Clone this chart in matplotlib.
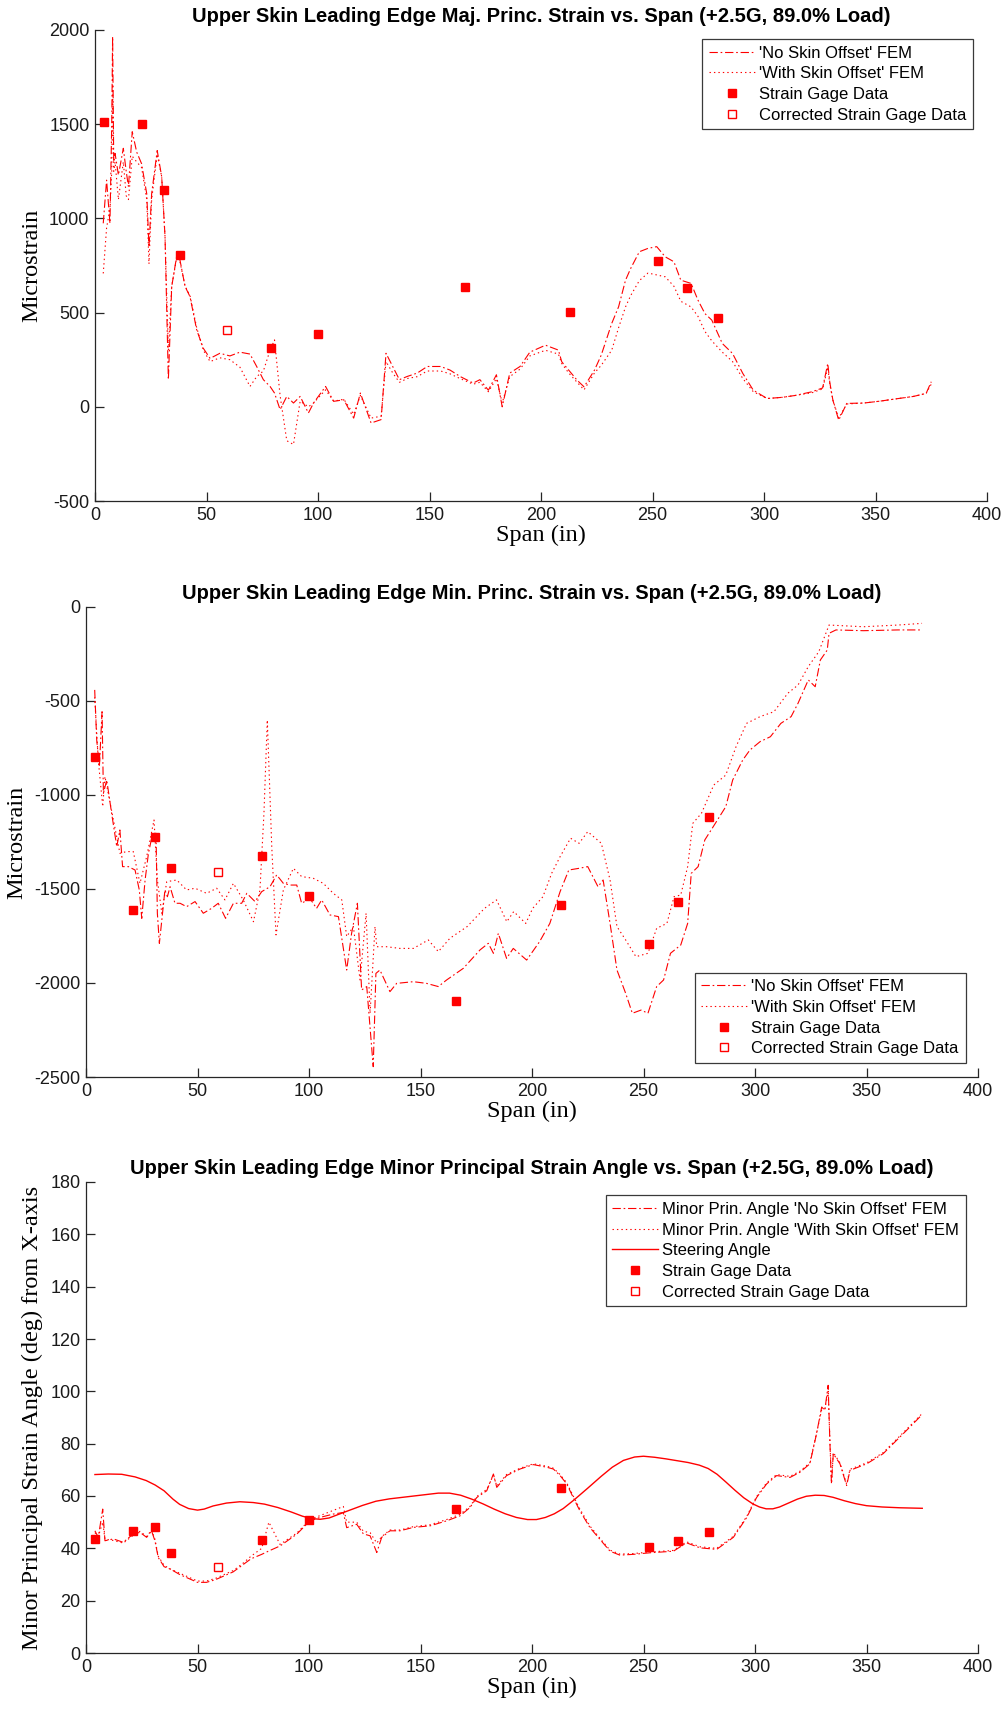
import matplotlib
matplotlib.use("Agg")
import matplotlib.pyplot as plt

# ---------------- data ----------------
span_top = [3.7, 5.2, 6.7, 7.5, 7.9, 8.4, 9.0, 10.5, 12.7, 14.0, 15.0, 16.7, 18.7, 20.9, 23.2, 24.2, 25.4, 27.9, 29.9, 31.4,
            32.9, 34.4, 36.6, 38.1, 40.4, 42.6, 45.6, 48.6, 51.6, 56.0, 60.5, 65.0, 69.5, 72.5, 75.5, 78.5, 80.5, 83.0, 86.0, 89.0,
            92.0, 95.7, 98.0, 103.4, 107.0, 111.6, 116.0, 119.0, 123.8, 128.3, 130.5, 133.5, 136.5, 140.0, 144.5, 149.0, 155.0, 159.2, 163.7, 169.6,
            172.6, 176.4, 180.0, 182.6, 186.0, 190.6, 195.0, 202.0, 207.8, 209.3, 212.4, 216.2, 219.3, 224.0, 227.0, 231.7, 234.8, 237.9, 240.2, 244.1,
            248.0, 251.9, 255.7, 259.6, 262.7, 267.3, 270.4, 273.5, 276.6, 281.3, 285.9, 290.5, 295.2, 301.4, 308.0, 313.9, 321.6, 326.3, 328.6, 329.5,
            330.9, 333.5, 337.1, 344.8, 352.0, 360.3, 367.0, 372.7, 375.0]
maj_no_offset = [974, 1203, 974, 1500, 1965, 1300, 1345, 1230, 1372, 1250, 1168, 1460, 1352, 1290, 1131, 848, 1131, 1360, 1222, 904,
                 144, 638, 797, 779, 638, 585, 408, 310, 257, 284, 270, 290, 280, 214, 144, 108, 73, -15, 55, 20,
                 55, -33, 20, 108, 29, 37, -60, 73, -86, -68, 284, 214, 144, 161, 179, 214, 214, 195, 161, 126,
                 144, 88, 170, 0, 179, 214, 290, 327, 301, 239, 195, 141, 106, 195, 274, 442, 531, 672, 734, 823,
                 841, 850, 796, 770, 672, 655, 566, 495, 460, 336, 283, 177, 88, 44, 50, 60, 80, 100, 230, 130,
                 35, -71, 18, 20, 30, 44, 55, 71, 133]
maj_with_offset = [708, 950, 1050, 1250, 1700, 1250, 1300, 1100, 1300, 1120, 1100, 1330, 1300, 1270, 1100, 758, 1100, 1340, 1222, 904,
                   300, 640, 790, 770, 640, 590, 420, 300, 240, 260, 250, 210, 108, 160, 190, 300, 355, 60, -180, -200,
                   30, 0, 20, 90, 30, 40, -40, 60, -60, -50, 240, 180, 130, 150, 160, 190, 190, 175, 150, 120,
                   130, 80, 150, 20, 160, 200, 270, 300, 280, 230, 180, 130, 90, 180, 220, 300, 420, 530, 590, 670,
                   710, 700, 690, 640, 560, 530, 480, 400, 350, 290, 240, 150, 80, 44, 50, 60, 75, 95, 210, 120,
                   35, -60, 15, 20, 30, 44, 55, 71, 120]

span_mid_no = [3.9, 4.8, 6.0, 7.2, 7.8, 9.3, 11.5, 13.8, 15.2, 16.4, 19.0, 22.0, 23.9, 25.0, 26.5, 28.0, 29.9, 31.4, 32.0, 32.9,
               34.0, 35.4, 36.5, 37.7, 39.9, 42.2, 45.1, 48.9, 52.6, 56.3, 59.3, 62.6, 66.1, 69.8, 72.1, 75.8, 78.8, 82.5, 85.5, 88.5,
               91.5, 94.5, 96.7, 100.4, 103.4, 105.7, 109.4, 113.2, 116.9, 119.1, 121.7, 123.6, 125.9, 128.8, 130.0, 131.8, 136.3, 139.3, 146.8, 152.7,
               158.0, 161.7, 169.2, 176.7, 180.4, 182.7, 184.9, 188.6, 191.6, 197.6, 203.4, 208.0, 212.6, 216.5, 221.1, 225.0, 229.6, 231.9, 235.0, 238.1,
               242.0, 245.0, 248.9, 252.0, 255.9, 259.0, 262.1, 266.7, 269.8, 271.4, 274.5, 277.5, 282.2, 286.9, 290.0, 294.5, 297.7, 302.3, 306.9, 311.6,
               316.2, 319.3, 323.9, 327.0, 329.3, 332.4, 333.2, 336.3, 348.6, 364.1, 374.9]
min_no_offset = [-441, -707, -849, -557, -991, -920, -1098, -1275, -1186, -1381, -1381, -1399, -1505, -1656, -1452, -1310, -1204, -1204, -1629, -1789,
                 -1665, -1505, -1541, -1488, -1576, -1576, -1594, -1567, -1629, -1603, -1576, -1656, -1576, -1576, -1523, -1567, -1514, -1488, -1425, -1470,
                 -1479, -1479, -1576, -1550, -1603, -1558, -1638, -1647, -1931, -1736, -1576, -2037, -2019, -2445, -1949, -1931, -2046, -2002, -1993, -2002,
                 -2019, -1984, -1922, -1824, -1789, -1842, -1736, -1869, -1816, -1878, -1780, -1683, -1514, -1399, -1390, -1381, -1488, -1452, -1683, -1931,
                 -2055, -2161, -2144, -2161, -2019, -1984, -1842, -1798, -1683, -1417, -1381, -1239, -1151, -1062, -920, -814, -761, -716, -690, -619,
                 -583, -512, -388, -424, -282, -229, -140, -122, -126, -122, -122]
span_mid_with = [3.9, 5.5, 7.5, 8.5, 12.3, 15.2, 18.2, 21.2, 24.2, 27.2, 30.5, 32.0, 34.0, 36.2, 40.7, 45.1, 48.9, 54.1, 58.6, 62.3,
                 66.1, 70.5, 75.1, 78.0, 79.8, 81.3, 83.3, 85.2, 88.5, 93.0, 96.7, 101.9, 106.4, 110.9, 114.7, 116.9, 119.9, 122.9, 125.6, 127.4,
                 129.6, 130.4, 134.8, 140.8, 146.8, 153.5, 158.0, 163.2, 170.9, 178.7, 184.1, 188.7, 191.8, 197.2, 200.3, 204.9, 208.8, 212.6, 217.3, 221.1,
                 225.0, 231.1, 235.0, 238.1, 242.0, 246.6, 252.0, 255.9, 260.5, 263.7, 266.7, 269.8, 272.1, 276.0, 281.5, 286.9, 291.5, 296.2, 302.3, 308.5,
                 314.7, 319.3, 323.9, 328.6, 333.2, 348.6, 364.1, 374.9]
min_with_offset = [-480, -814, -1062, -902, -1133, -1310, -1301, -1301, -1470, -1328, -1133, -1452, -1629, -1461, -1452, -1505, -1496, -1523, -1496, -1558,
                   -1470, -1558, -1674, -1505, -1097, -601, -1275, -1744, -1505, -1390, -1434, -1443, -1470, -1523, -1558, -1753, -1700, -1984, -1629, -2161,
                   -1700, -1807, -1807, -1816, -1816, -1771, -1833, -1762, -1700, -1603, -1558, -1674, -1620, -1683, -1603, -1541, -1417, -1328, -1230, -1257,
                   -1195, -1257, -1452, -1700, -1771, -1860, -1842, -1709, -1683, -1541, -1532, -1381, -1151, -1097, -947, -894, -743, -619, -583, -557,
                   -459, -415, -317, -238, -96, -105, -96, -87]

span_ang = [4.0, 5.5, 7.5, 8.5, 12.3, 16.7, 21.2, 24.2, 27.2, 29.4, 30.9, 32.4, 35, 38, 42, 46, 50, 54, 58, 62,
            66, 70, 74, 78.8, 82, 87.0, 94.5, 100.4, 104.9, 110.9, 115.4, 116.9, 121.4, 124.4, 127.4, 130.4, 132.6, 136.3, 140.8, 146.8,
            154.3, 161.7, 167.7, 172.2, 175.2, 179.7, 182.7, 184.2, 188.6, 194.6, 200.6, 206.6, 209.6, 212.6, 215.6, 218.5, 221.5, 226.0, 230.5, 235.0,
            239.4, 245.4, 252.9, 263.4, 269.3, 275.3, 282.8, 290.3, 296.3, 300.7, 305.2, 309.7, 315.7, 320.2, 324.6, 327.6, 329.9, 331.3, 332.8, 333.6,
            334.3, 335.1, 338.1, 341.1, 342.6, 350.1, 357.5, 363.5, 369.5, 374.7]
ang_no_offset = [46.7, 44.2, 55.0, 42.9, 43.6, 42.3, 45.5, 46.1, 44.2, 46.7, 42.9, 36.5, 33, 32, 30, 28.5, 27, 27, 28, 29.5,
                 31, 33.5, 36, 37.7, 39, 40.9, 45.4, 50.5, 51.8, 53.1, 53.7, 47.9, 49.2, 45.5, 44.8, 38.4, 44.2, 46.7, 46.7, 48,
                 48.6, 50.5, 52.4, 55.6, 59.4, 62, 68.4, 63.3, 67.8, 70.3, 72, 71, 70.3, 67.8, 64.6, 59.4, 54.3, 47.9, 43.4, 38.9,
                 37.4, 37.7, 38.3, 38.9, 42.1, 40.2, 39.6, 44.2, 51.8, 59.4, 64.6, 67.8, 67.1, 69.1, 72.3, 83.8, 94, 92.8, 102.3, 80,
                 64.6, 76.2, 72.3, 64, 69.8, 72.3, 76.2, 81.3, 86.4, 90.9]
ang_with_offset = [46.0, 44.5, 50.0, 43.5, 43.0, 42.0, 45.0, 46.5, 44.5, 47.0, 43.5, 37.0, 33.5, 32, 30.5, 29, 27.5, 27.5, 28.5, 30,
                   31.5, 34, 37, 40, 50, 41.5, 45.8, 51, 52.5, 54.5, 56, 50, 50, 46.5, 46, 42, 44.5, 47, 47, 48.3,
                   49, 51, 53, 56, 59.8, 62.5, 68, 63.8, 68.2, 70.6, 72.3, 71.4, 70.6, 68.2, 65, 60, 55, 48.5, 43.8, 39.3,
                   37.8, 38, 38.6, 39.2, 42.5, 40.6, 40, 44.6, 52.2, 59.8, 65, 68.2, 67.5, 69.5, 72.7, 84, 93, 93.2, 100, 81,
                   65, 76.6, 72.7, 64.5, 70.2, 72.7, 76.6, 81.7, 86.8, 91.3]

span_steer = [4, 10, 16, 22, 27, 31, 35, 39, 42, 46, 50, 53, 57, 63, 69, 75, 80, 86, 92, 97,
              101, 105, 109, 113, 118, 124, 130, 136, 141, 150, 158, 163, 168, 173, 178, 183, 188, 193, 198, 202,
              206, 210, 214, 219, 225, 231, 236, 241, 246, 250, 255, 260, 265, 270, 275, 279, 283, 287, 291, 295,
              299, 302, 305, 308, 311, 315, 319, 323, 327, 331, 335, 340, 345, 350, 357, 365, 375]
steering_angle = [68.2, 68.4, 68.3, 67.3, 65.9, 64.2, 62.0, 58.8, 56.8, 55.2, 54.6, 55.0, 56.2, 57.3, 57.8, 57.5, 56.9, 55.6, 53.9, 52.3,
                  51.4, 51.1, 51.6, 52.9, 54.5, 56.4, 58.0, 58.9, 59.4, 60.3, 61.1, 61.1, 60.3, 58.8, 57.0, 55.0, 53.2, 51.8, 51.0, 51.0,
                  51.8, 53.2, 55.2, 58.6, 63.0, 67.5, 71.0, 73.6, 74.9, 75.2, 74.8, 74.2, 73.5, 72.8, 71.8, 70.5, 68.3, 65.3, 62.2, 59.3,
                  57.0, 55.8, 55.1, 55.1, 55.8, 57.3, 58.8, 59.9, 60.3, 60.2, 59.5, 58.2, 57.1, 56.3, 55.8, 55.5, 55.3]

gage_span = [4, 21, 31, 38, 79, 100, 166, 213, 252.5, 265.5, 279.3]
gage_maj = [1513, 1501, 1150, 804, 313, 387, 635, 504, 775, 632, 469]
gage_min = [-800, -1612, -1223, -1390, -1323, -1537, -2094, -1585, -1791, -1569, -1119]
gage_ang = [43.7, 46.8, 48.3, 38.4, 43.2, 51.0, 54.9, 62.9, 40.6, 42.9, 46.2]
corr_span = [59]
corr_maj = [409]
corr_min = [-1408]
corr_ang = [32.8]

titles = ["Upper Skin Leading Edge Maj. Princ. Strain vs. Span (+2.5G, 89.0% Load)",
          "Upper Skin Leading Edge Min. Princ. Strain vs. Span (+2.5G, 89.0% Load)",
          "Upper Skin Leading Edge Minor Principal Strain Angle vs. Span (+2.5G, 89.0% Load)"]

# ---------------- style ----------------
plt.rcParams['font.family'] = ['Liberation Sans', 'DejaVu Sans']
plt.rcParams['lines.scale_dashes'] = False
plt.rcParams['axes.unicode_minus'] = False
RED = (1, 0, 0)
AXC = '#262626'
DASHDOT = (0, (6, 2, 1.2, 2))
DOTTED = (0, (1, 2.2))
LW = 0.8
MS = 6
SERIF = ['Liberation Serif', 'DejaVu Serif']

fig = plt.figure(figsize=(10.05, 17.09), dpi=100)
W, H = 1005, 1709


def make_ax(left, top, right, bottom):
    return fig.add_axes([left / W, 1 - bottom / H, (right - left) / W, (bottom - top) / H])


def style(ax, ylim, yticks, ylabel, title):
    ax.set_xlim(0, 400)
    ax.set_xticks(range(0, 401, 50))
    ax.set_ylim(*ylim)
    ax.set_yticks(yticks)
    for s in ['top', 'right']:
        ax.spines[s].set_visible(False)
    for s in ['left', 'bottom']:
        ax.spines[s].set_color(AXC)
        ax.spines[s].set_linewidth(0.9)
    ax.tick_params(direction='in', length=6.5, width=0.9, colors=AXC, labelsize=13, labelcolor='#1a1a1a', pad=4)
    ax.set_xlabel('Span (in)', family=SERIF, fontsize=17.5, labelpad=1)
    ax.set_ylabel(ylabel, family=SERIF, fontsize=17.5, labelpad=5)
    ax.set_title(title, fontsize=14.5, fontweight='bold', pad=6)


def legend(ax, loc, anchor):
    lg = ax.legend(loc=loc, bbox_to_anchor=anchor, borderaxespad=0, fontsize=12, frameon=True,
                   fancybox=False, framealpha=1, edgecolor='#3a3a3a', handlelength=2.75, handletextpad=0.25,
                   labelspacing=0.34, borderpad=0.4)
    lg.get_frame().set_linewidth(0.9)
    return lg


# ---- top ----
ax1 = make_ax(95, 30, 987, 501)
ax1.plot(span_top, maj_no_offset, color=RED, lw=LW, linestyle=DASHDOT, label="'No Skin Offset' FEM")
ax1.plot(span_top, maj_with_offset, color=RED, lw=LW, linestyle=DOTTED, label="'With Skin Offset' FEM")
ax1.plot(gage_span, gage_maj, 's', color=RED, ms=MS, mec=RED, label='Strain Gage Data')
ax1.plot(corr_span, corr_maj, 's', color=RED, ms=MS, mfc='white', mec=RED, mew=1.0, label='Corrected Strain Gage Data')
style(ax1, (-500, 2000), range(-500, 2001, 500), 'Microstrain', titles[0])
legend(ax1, 'upper right', (0.984, 0.981))

# ---- middle ----
ax2 = make_ax(86, 607, 978, 1077)
ax2.plot(span_mid_no, min_no_offset, color=RED, lw=LW, linestyle=DASHDOT, label="'No Skin Offset' FEM")
ax2.plot(span_mid_with, min_with_offset, color=RED, lw=LW, linestyle=DOTTED, label="'With Skin Offset' FEM")
ax2.plot(gage_span, gage_min, 's', color=RED, ms=MS, mec=RED, label='Strain Gage Data')
ax2.plot(corr_span, corr_min, 's', color=RED, ms=MS, mfc='white', mec=RED, mew=1.0, label='Corrected Strain Gage Data')
style(ax2, (-2500, 0), range(-2500, 1, 500), 'Microstrain', titles[1])
legend(ax2, 'lower right', (0.986, 0.030))

# ---- bottom ----
ax3 = make_ax(86, 1182, 978, 1653)
ax3.plot(span_ang, ang_no_offset, color=RED, lw=LW, linestyle=DASHDOT, label="Minor Prin. Angle 'No Skin Offset' FEM")
ax3.plot(span_ang, ang_with_offset, color=RED, lw=LW, linestyle=DOTTED, label="Minor Prin. Angle 'With Skin Offset' FEM")
ax3.plot(span_steer, steering_angle, color=RED, lw=1.0, linestyle='-', label='Steering Angle')
ax3.plot(gage_span, gage_ang, 's', color=RED, ms=MS, mec=RED, label='Strain Gage Data')
ax3.plot(corr_span, corr_ang, 's', color=RED, ms=MS, mfc='white', mec=RED, mew=1.0, label='Corrected Strain Gage Data')
style(ax3, (0, 180), range(0, 181, 20), 'Minor Principal Strain Angle (deg) from X-axis', titles[2])
legend(ax3, 'upper right', (0.9865, 0.972))

fig.savefig('out.png', dpi=100, facecolor='white')
